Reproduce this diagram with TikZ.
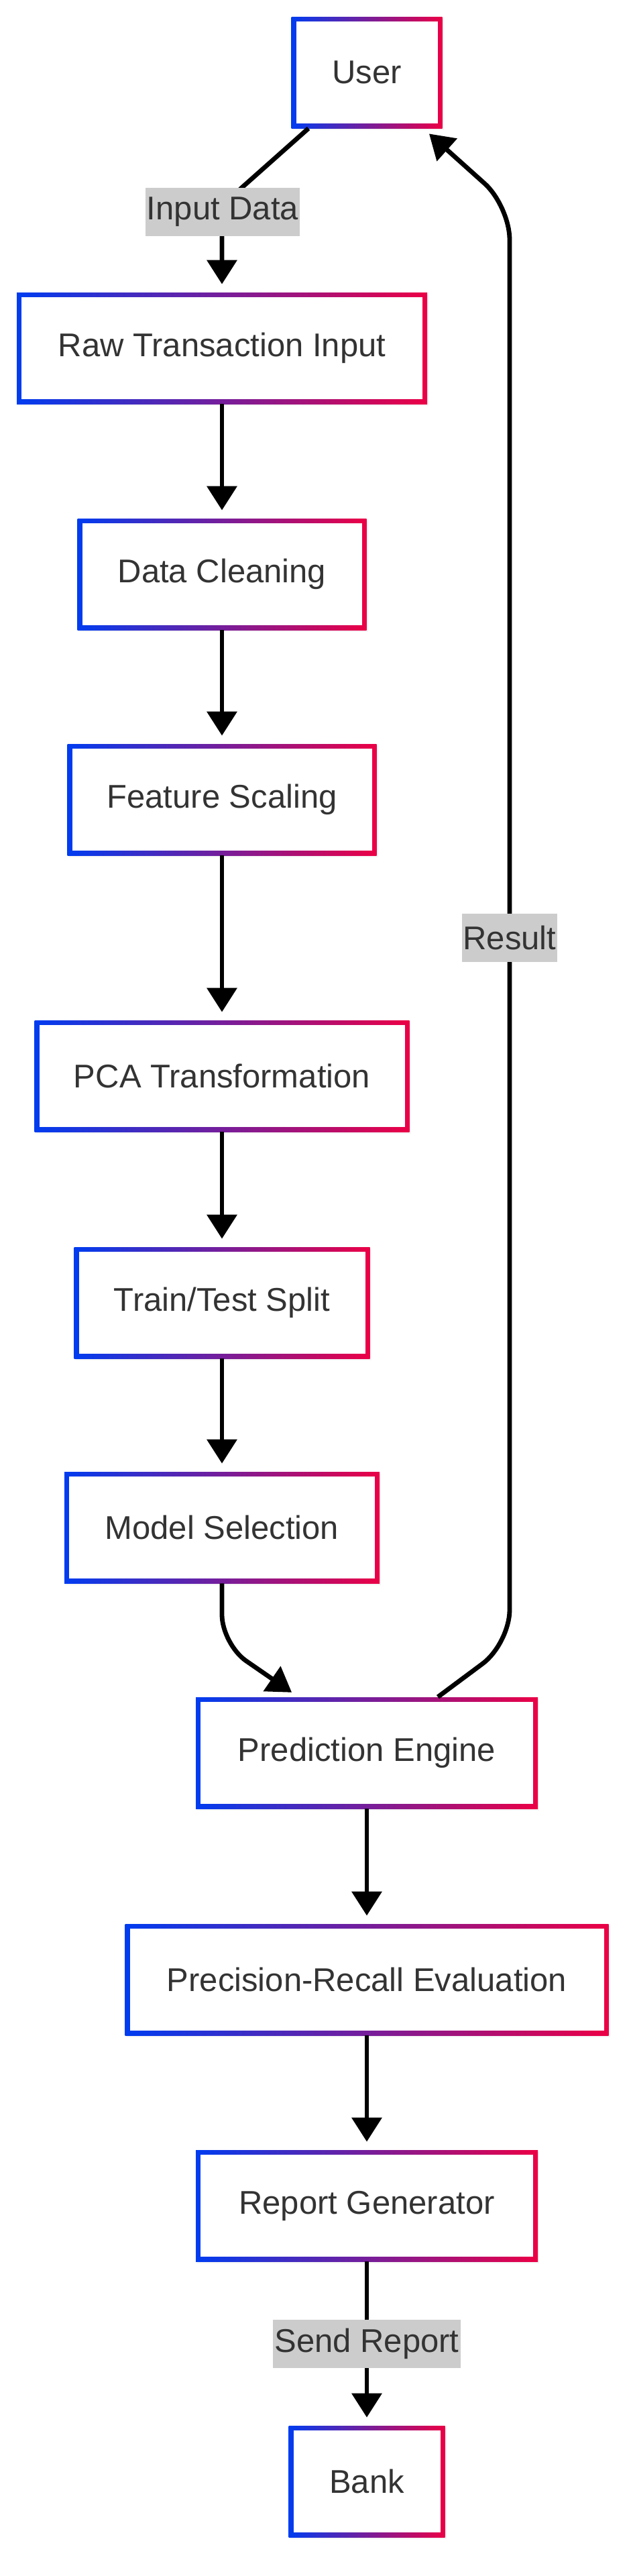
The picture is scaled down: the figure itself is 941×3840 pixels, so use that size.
\documentclass[tikz,border=0pt]{standalone}
\usepackage{fontspec}
\setmainfont{Liberation Sans}
\usepackage{tikz}
\usetikzlibrary{arrows.meta,positioning,calc,shadows}

\definecolor{edgeblue}{RGB}{0,60,240}
\definecolor{edgered}{RGB}{235,0,70}
\definecolor{txtgray}{RGB}{51,51,51}
\definecolor{lblgray}{RGB}{204,204,204}

\tikzset{
  stage/.style={minimum height=83pt, inner sep=0pt, fill=white, text=txtgray,
    font=\fontsize{24.5}{29}\selectfont,
    drop shadow={opacity=0.08, shadow xshift=1pt, shadow yshift=-1.5pt},
    path picture={
      \shade[left color=edgeblue, right color=edgered]
        (path picture bounding box.south west) rectangle (path picture bounding box.north east);
      \fill[white] ([shift={(3.5pt,3.5pt)}]path picture bounding box.south west)
        rectangle ([shift={(-3.5pt,-3.5pt)}]path picture bounding box.north east);
    }},
  lbl/.style={fill=lblgray, text=txtgray, inner xsep=1pt, inner ysep=0pt,
    minimum height=36pt, font=\fontsize{24.5}{29}\selectfont},
  flow/.style={line width=3.4pt, -{Triangle[length=18pt, width=22pt]}, shorten >=6pt}
}

\begin{document}
\begin{tikzpicture}[x=0.5pt, y=-0.5pt]
  \useasboundingbox (0,0) rectangle (941,3840);
  \fill[white] (0,0) rectangle (941,3840);

  % Stages
  \node[stage, minimum width=112.5pt] (user) at (547,108) {User};
  \node[stage, minimum width=306pt] (raw) at (331,519) {Raw Transaction Input};
  \node[stage, minimum width=215.5pt] (clean) at (331,856) {Data Cleaning};
  \node[stage, minimum width=230.5pt] (scale) at (331,1192) {Feature Scaling};
  \node[stage, minimum width=279.5pt] (pca) at (331,1604) {PCA Transformation};
  \node[stage, minimum width=220.5pt] (split) at (331,1942) {Train/Test Split};
  \node[stage, minimum width=235pt] (model) at (331,2277) {Model Selection};
  \node[stage, minimum width=255pt] (pred) at (547,2613) {Prediction Engine};
  \node[stage, minimum width=360.5pt] (eval) at (547,2951) {Precision-Recall Evaluation};
  \node[stage, minimum width=255pt] (report) at (547,3288) {Report Generator};
  \node[stage, minimum width=116.5pt] (bank) at (547,3699) {Bank};

  % Bend points
  \coordinate (inbend) at (331,306);
  \coordinate (selbend) at (331,2451);
  \coordinate (resbot) at (760,2450);
  \coordinate (restop) at (760,307);

  % Arrows
  \draw[flow, rounded corners=20pt] ([xshift=-43.5pt]user.south) -- (inbend) -- (raw.north);
  \draw[flow] (raw) -- (clean);
  \draw[flow] (clean) -- (scale);
  \draw[flow] (scale) -- (pca);
  \draw[flow] (pca) -- (split);
  \draw[flow] (split) -- (model);
  \draw[flow, rounded corners=22pt] (model.south) -- (selbend) -- ([xshift=-51pt]pred.north);
  \draw[flow] (pred) -- (eval);
  \draw[flow] (eval) -- (report);
  \draw[flow] (report) -- (bank);
  \draw[flow, rounded corners=25pt] ([xshift=53pt]pred.north) -- (resbot) -- (restop) -- ([xshift=42pt]user.south);

  % Edge labels
  \node[lbl] (inlbl) at (332,316) {Input Data};
  \node[lbl] (reslbl) at (760,1398) {Result};
  \node[lbl] (sendlbl) at ($(report.south)!0.5!(bank.north)$) {Send Report};

\end{tikzpicture}
\end{document}
